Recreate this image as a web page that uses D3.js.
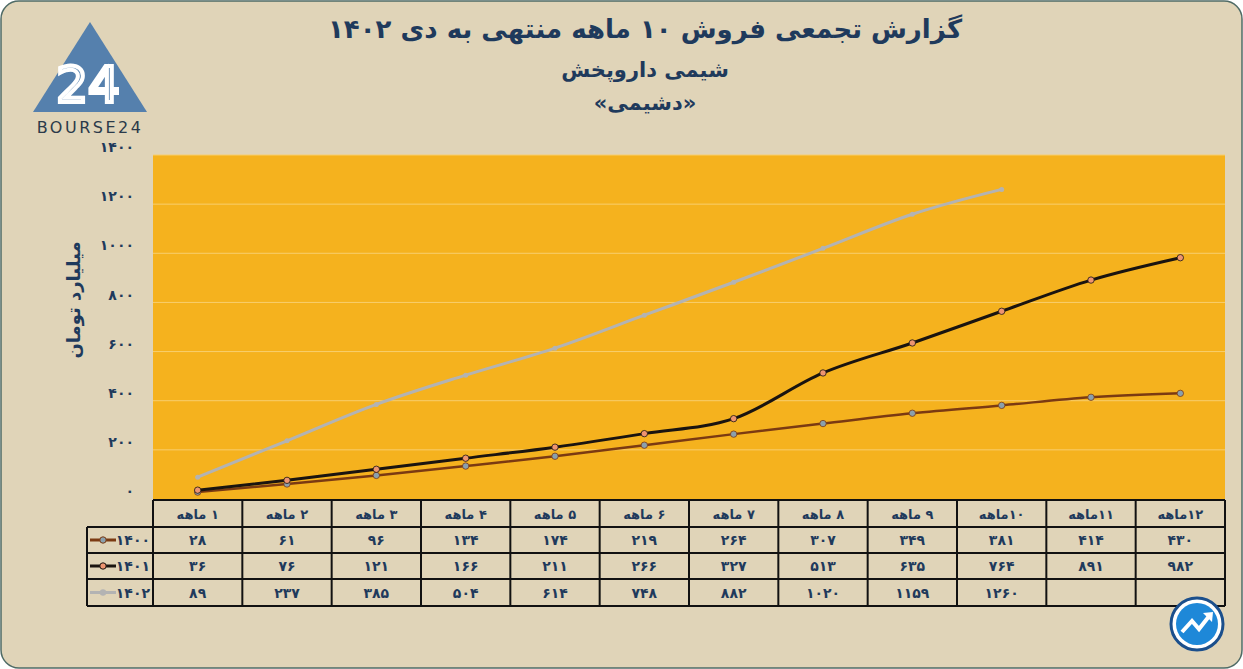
<!DOCTYPE html>
<html><head><meta charset="utf-8">
<script src="https://cdn.jsdelivr.net/npm/d3@7"></script>
<style>
body{margin:0;background:#fff;}
text{font-family:"DejaVu Sans",sans-serif;}
</style></head>
<body><svg id="chart" width="1243" height="669"></svg>
<script>
const months = ['۱ ماهه','۲ ماهه','۳ ماهه','۴ ماهه','۵ ماهه','۶ ماهه','۷ ماهه','۸ ماهه','۹ ماهه','۱۰ماهه','۱۱ماهه','۱۲ماهه'];
const seriesNames = ['1400','1401','1402'];
const sales1400 = [28,61,96,134,174,219,264,307,349,381,414,430];
const sales1401 = [36,76,121,166,211,266,327,513,635,764,891,982];
const sales1402 = [89,237,385,504,614,748,882,1020,1159,1260];
const yTicks = [0,200,400,600,800,1000,1200,1400];

const fa = s => String(s).replace(/\d/g, d => '۰۱۲۳۴۵۶۷۸۹'[d]);
const navy = '#1f3a5c';

const svg = d3.select('#chart');
svg.append('rect').attr('x',1).attr('y',1).attr('width',1241).attr('height',667)
  .attr('rx',18).attr('fill','#e0d4b8').attr('stroke','#4f6b66').attr('stroke-width',1.5);

// titles
const titles = [['گزارش تجمعی فروش ۱۰ ماهه منتهی به دی ۱۴۰۲',38,26],['شیمی داروپخش',77,21],['«دشیمی»',110,21]];
titles.forEach(([t,y,s]) => svg.append('text').attr('x',645).attr('y',y).attr('text-anchor','middle')
  .attr('font-size',s).attr('font-weight','bold').attr('fill',navy).attr('direction','rtl').text(t));

// logo
const logo = svg.append('g');
logo.append('path').attr('d','M90,22 L147,112 L33,112 Z').attr('fill','#5580ad');
logo.append('text').attr('x',88).attr('y',102).attr('text-anchor','middle').attr('font-size',50)
  .attr('fill','none').attr('stroke','#fff').attr('stroke-width',4).text('24');
logo.append('text').attr('x',90).attr('y',133).attr('text-anchor','middle').attr('font-size',16)
  .attr('letter-spacing',2.5).attr('fill','#2b3a4a').text('BOURSE24');

// plot
const x0 = 153, x1 = 1225, yTop = 155, yBot = 499;
const x = d3.scaleBand().domain(months.map((m,i)=>i)).range([x0,x1]);
const y = d3.scaleLinear().domain([0,1400]).range([yBot,yTop]);
svg.append('rect').attr('x',x0).attr('y',yTop).attr('width',x1-x0).attr('height',yBot-yTop).attr('fill','#f5b21e');
svg.append('g').selectAll('line').data(yTicks.slice(1)).join('line')
  .attr('x1',x0).attr('x2',x1).attr('y1',d=>y(d)).attr('y2',d=>y(d)).attr('stroke','#f8cf6e').attr('stroke-width',1);
svg.append('g').selectAll('text').data(yTicks).join('text')
  .attr('x',134).attr('y',d=>y(d)).attr('dy','-0.2em').attr('text-anchor','end').attr('font-size',14).attr('font-weight','bold')
  .attr('fill',navy).text(d=>fa(d));
svg.append('text').attr('transform','translate(80,300) rotate(-90)').attr('text-anchor','middle')
  .attr('font-size',18).attr('font-weight','bold').attr('fill',navy).attr('direction','rtl').text('میلیارد تومان');

const series = [
  {name:'1400', vals:sales1400, color:'#7b3a12', marker:'#8aa0ad', w:2.5},
  {name:'1401', vals:sales1401, color:'#1a1410', marker:'#ee9470', w:3},
  {name:'1402', vals:sales1402, color:'#b3b3b3', marker:'#b3b3b3', w:3}
];
const line = d3.line().x((d,i)=>x(i)+x.bandwidth()/2).y(d=>y(d)).curve(d3.curveMonotoneX);
series.forEach(s => {
  svg.append('path').datum(s.vals).attr('d',line).attr('fill','none').attr('stroke',s.color).attr('stroke-width',s.w);
  svg.append('g').selectAll('circle').data(s.vals).join('circle')
    .attr('cx',(d,i)=>x(i)+x.bandwidth()/2).attr('cy',d=>y(d)).attr('r',s.name==='1402'?2.5:3.2)
    .attr('fill',s.marker).attr('stroke',s.name==='1402'?'none':s.color).attr('stroke-width',0.8);
});

// table
const rowY = [500,527,553,579,606];
const tbl = svg.append('g').attr('stroke','#111').attr('stroke-width',2);
rowY.forEach((ry,k) => tbl.append('line').attr('x1',k===0?x0:87).attr('x2',x1).attr('y1',ry).attr('y2',ry));
d3.range(13).forEach(i => tbl.append('line').attr('x1',x0+i*x.bandwidth()).attr('x2',x0+i*x.bandwidth()).attr('y1',500).attr('y2',606));
tbl.append('line').attr('x1',87).attr('x2',87).attr('y1',527).attr('y2',606);

svg.append('g').selectAll('text').data(months).join('text')
  .attr('x',(d,i)=>x(i)+x.bandwidth()/2).attr('y',519).attr('text-anchor','middle').attr('font-size',13)
  .attr('font-weight','bold').attr('fill',navy).attr('direction','rtl').text(d=>d);
series.forEach((s,k) => {
  const cy = (rowY[k+1]+rowY[k+2])/2;
  svg.append('g').selectAll('text').data(s.vals).join('text')
    .attr('x',(d,i)=>x(i)+x.bandwidth()/2).attr('y',cy+5).attr('text-anchor','middle').attr('font-size',14)
    .attr('font-weight','bold').attr('fill',navy).text(d=>fa(d));
  svg.append('line').attr('x1',90).attr('x2',116).attr('y1',cy).attr('y2',cy).attr('stroke',s.color).attr('stroke-width',3);
  svg.append('circle').attr('cx',103).attr('cy',cy).attr('r',3.2).attr('fill',s.marker).attr('stroke',s.name==='1402'?'none':s.color);
  svg.append('text').attr('x',150).attr('y',cy+5).attr('text-anchor','end').attr('font-size',14)
    .attr('font-weight','bold').attr('fill',navy).text(fa(s.name));
});

// bottom-right badge
const b = svg.append('g').attr('transform','translate(1197,624)');
b.append('circle').attr('r',26).attr('fill','#fff').attr('stroke','#1b4f8c').attr('stroke-width',3);
b.append('circle').attr('r',21).attr('fill','#1e88d8');
b.append('path').attr('d','M-15,8 L-5,-3 L2,5 L13,-9').attr('fill','none').attr('stroke','#fff').attr('stroke-width',4);
b.append('path').attr('d','M6,-11 L16,-12 L15,-2 Z').attr('fill','#fff');
</script></body></html>
